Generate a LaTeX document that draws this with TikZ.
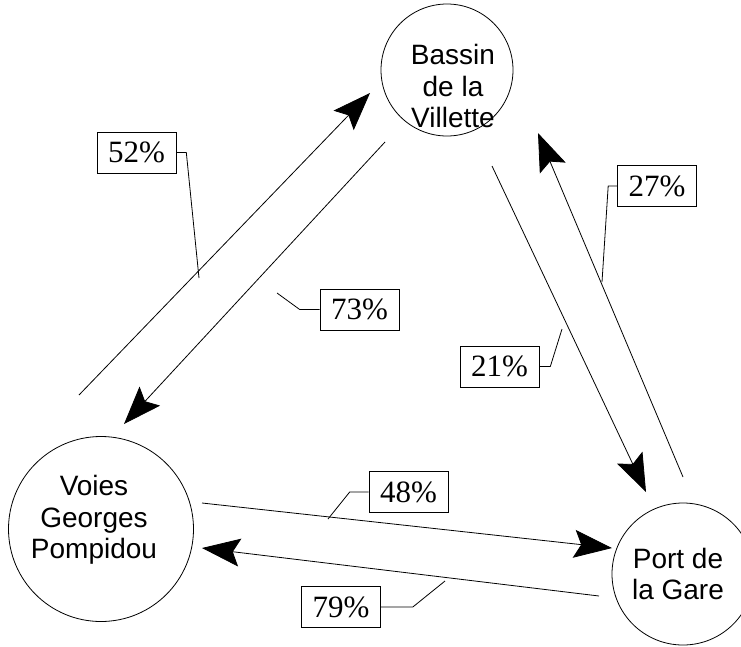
\documentclass[tikz,border=0pt]{standalone}
\usepackage{fontspec}
\setmainfont{Liberation Serif}
\setsansfont{Liberation Sans}
\usetikzlibrary{arrows.meta}
\tikzset{
  place/.style={draw,circle,line width=0.8pt,inner sep=0pt},
  placetext/.style={align=center,font=\fontsize{28}{31.5}\selectfont\sffamily},
  share/.style={draw,line width=0.8pt,minimum height=41pt,inner xsep=11pt,font=\fontsize{31}{31}\selectfont},
  flow/.style={-{Stealth[length=38pt,width=28pt,inset=7pt]},line width=0.8pt},
  leader/.style={line width=0.8pt}
}
\begin{document}
\begin{tikzpicture}[x=1pt,y=-1pt]
\useasboundingbox (0,0) rectangle (741,646);
% the three places
\node[place,minimum size=132pt] (bassin) at (447,70) {};
\node[place,minimum size=142pt] (port) at (683,574) {};
\node[place,minimum size=185pt] (voies) at (101,529) {};
\node[placetext] (bassin-t) at (453,86) {Bassin\\de la\\Villette};
\node[placetext] (port-t) at (678,574) {Port de\\la Gare};
\node[placetext] (voies-t) at (94,520) {Voies\\Georges\\Pompidou};
% arrow ends
\coordinate (vb0) at (79,395);  \coordinate (vb1) at (370,93);
\coordinate (bv0) at (385,142); \coordinate (bv1) at (124,424);
\coordinate (bp0) at (492,166); \coordinate (bp1) at (646,492);
\coordinate (pb0) at (683,477); \coordinate (pb1) at (538,133);
\coordinate (vp0) at (202,503); \coordinate (vp1) at (612,548);
\coordinate (pv0) at (599,596); \coordinate (pv1) at (202,548);
\draw[flow] (vb0) -- (vb1);
\draw[flow] (bv0) -- (bv1);
\draw[flow] (bp0) -- (bp1);
\draw[flow] (pb0) -- (pb1);
\draw[flow] (vp0) -- (vp1);
\draw[flow] (pv0) -- (pv1);
% shares
\node[share] (l52) at (136.5,152.5) {52\%};
\node[share] (l73) at (359.5,309.5) {73\%};
\node[share] (l27) at (657,186) {27\%};
\node[share] (l21) at (499.5,366.5) {21\%};
\node[share] (l48) at (408.5,492) {48\%};
\node[share] (l79) at (341,607) {79\%};
\coordinate (k52) at (199,278);
\coordinate (k73) at (277,293);
\coordinate (k27) at (602,282);
\coordinate (k21) at (562,329);
\coordinate (k48) at (328,519);
\coordinate (k79) at (445,581);
\draw[leader] (l52.east) -- ++(10,0) -- (k52);
\draw[leader] (l73.west) -- ++(-20,0) -- (k73);
\draw[leader] (l27.west) -- ++(-9,0) -- (k27);
\draw[leader] (l21.east) -- ++(11,0) -- (k21);
\draw[leader] (l48.west) -- ++(-19,0) -- (k48);
\draw[leader] (l79.east) -- ++(32,0) -- (k79);
\end{tikzpicture}
\end{document}
